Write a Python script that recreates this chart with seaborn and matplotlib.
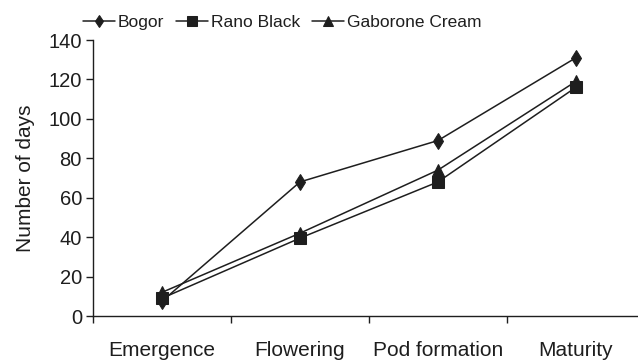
import matplotlib
matplotlib.use("Agg")
import matplotlib.pyplot as plt
import seaborn as sns
import pandas as pd
from matplotlib.ticker import FixedLocator

stages = ["Emergence", "Flowering", "Pod formation", "Maturity"]
bogor = [7.5, 68, 89, 131]
rano_black = [9, 39.5, 68, 116]
gaborone_cream = [12, 42, 74, 119]
varieties = ["Bogor", "Rano Black", "Gaborone Cream"]
yticks = [0, 20, 40, 60, 80, 100, 120, 140]

rows = []
for name, vals in zip(varieties, [bogor, rano_black, gaborone_cream]):
    for s, v in zip(stages, vals):
        rows.append({"stage": s, "days": v, "variety": name})
df = pd.DataFrame(rows)

sns.set_style("white")
plt.rcParams['font.family'] = ['Liberation Sans', 'DejaVu Sans']

fig = plt.figure(figsize=(6.38, 3.6), dpi=100)
ax = fig.add_axes([93/638, 44/360, (638-93)/638, 276/360])

line_color = "#1e1e1e"
sns.lineplot(data=df, x="stage", y="days", hue="variety", style="variety",
             hue_order=varieties, style_order=varieties,
             markers=["d", "s", "^"], dashes=False,
             palette=[line_color]*3, markersize=8, linewidth=1.1,
             markeredgecolor=line_color, ax=ax, sort=False)

ax.set_ylim(0, 140)
ax.set_xlim(-0.5, 3.45)
ax.set_yticks(yticks)
ax.set_xticks(range(len(stages)))
ax.set_xticklabels(stages)
ax.xaxis.set_minor_locator(FixedLocator([-0.5, 0.5, 1.5, 2.5]))
ax.tick_params(axis="x", which="major", length=0, pad=18, labelsize=15, colors="#1e1e1e")
ax.tick_params(axis="x", which="minor", length=5, width=1, direction="out", color="#1e1e1e", bottom=True)
ax.tick_params(axis="y", length=5, width=1, direction="out", left=True, labelsize=14.5, colors="#1e1e1e", pad=3)
for sp in ["top", "right"]:
    ax.spines[sp].set_visible(False)
for sp in ["left", "bottom"]:
    ax.spines[sp].set_color("#1e1e1e")
    ax.spines[sp].set_linewidth(1)
ax.set_xlabel("")
ax.set_ylabel("Number of days", fontsize=15, color="#1e1e1e", labelpad=10)

handles, labels = ax.get_legend_handles_labels()
for h in handles:
    h.set_markersize(6.5)
ax.legend_.remove()
fig.legend(handles, labels, loc="center left", bbox_to_anchor=(83/638, 1 - 22/360),
           ncol=3, frameon=False, fontsize=12.5, handlelength=1.85, handletextpad=0.15,
           columnspacing=0.7, borderaxespad=0, borderpad=0, labelcolor="#1e1e1e")

fig.savefig("out.png", dpi=100)
